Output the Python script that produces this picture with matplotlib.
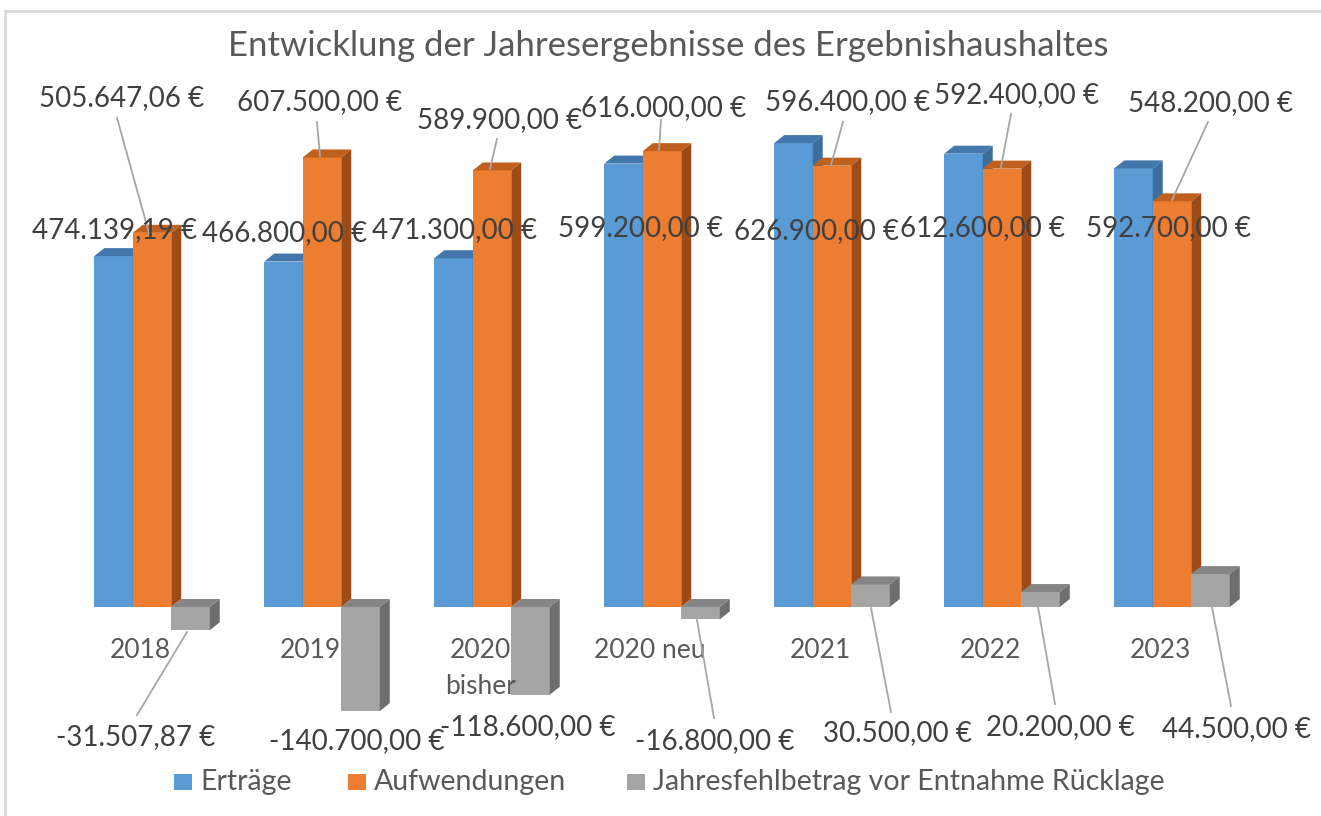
import matplotlib
matplotlib.use('Agg')
import matplotlib.pyplot as plt
from matplotlib.patches import Polygon, Rectangle
from matplotlib.lines import Line2D

# data
categories = ['2018', '2019', '2020\nbisher', '2020 neu', '2021', '2022', '2023']
ertraege = [474139.19, 466800.00, 471300.00, 599200.00, 626900.00, 612600.00, 592700.00]
aufwendungen = [505647.06, 607500.00, 589900.00, 616000.00, 596400.00, 592400.00, 548200.00]
fehlbetrag = [-31507.87, -140700.00, -118600.00, -16800.00, 30500.00, 20200.00, 44500.00]
series_names = ['Erträge', 'Aufwendungen', 'Jahresfehlbetrag vor Entnahme Rücklage']

# colours: front, top, side
colors = [('#5B9BD5', '#4377AB', '#3E6E9C'),
          ('#ED7D31', '#C0601E', '#9E4C17'),
          ('#A5A5A5', '#858585', '#6E6E6E')]

W, H = 1321, 816
FONT = 'Lato'
TXT = '#404040'

def fmt(v):
    s = f'{abs(v):,.2f}'.replace(',', 'X').replace('.', ',').replace('X', '.')
    return ('-' if v < 0 else '') + s + ' €'

fig = plt.figure(figsize=(W / 100, H / 100), dpi=100)
ax = fig.add_axes([0, 0, 1, 1])
# pixel mapping: x_px = 152 + 170*x ; y_px = 607 - 0.00074*v
ax.set_xlim(-152 / 170, (W - 152) / 170)
ax.set_ylim((607 - H) / 0.00074, 607 / 0.00074)
ax.axis('off')

def px(x, y):
    return (x / W, 1 - y / H)

w = 0.2265
dx = 10 / 170
dy = 8 / 0.00074

for k, vals in enumerate([ertraege, aufwendungen, fehlbetrag]):
    front, top, side = colors[k]
    for i, v in enumerate(vals):
        c = i + (k - 1) * w
        x0, x1 = c - w / 2, c + w / 2
        lo, hi = min(0, v), max(0, v)
        ax.bar(c, v, width=w, color=front, edgecolor='none', zorder=3 + k)
        ax.add_patch(Polygon([(x0, hi), (x1, hi), (x1 + dx, hi + dy), (x0 + dx, hi + dy)],
                             closed=True, facecolor=top, edgecolor='none', zorder=3 + k))
        ax.add_patch(Polygon([(x1, lo), (x1, hi), (x1 + dx, hi + dy), (x1 + dx, lo + dy)],
                             closed=True, facecolor=side, edgecolor='none', zorder=3 + k))

# category labels (one line each, 35 px apart)
for i, cat in enumerate(categories):
    for j, part in enumerate(cat.split('\n')):
        ax.text(i - 0.07, (607 - 651 - 35 * j) / 0.00074, part, ha='center', va='center',
                fontsize=19, color='#595959', family=FONT, zorder=10)

# label layout (pixel positions of label centres, optional leader line)
auf_pos = [(122, 98), (320, 102), (500, 120), (664, 108), (848, 102), (1016, 95), (1211, 103)]
auf_lines = [((117, 118), (149, 233)), ((317, 122), (320, 156)), ((497, 139), (490, 169)),
             ((661, 120), (659, 150)), ((843, 122), (831, 165)), ((1011, 114), (1001, 167)),
             ((1208, 122), (1172, 200))]
ert_pos = [(115, 230), (285, 233), (455, 230), (641, 228), (816, 231), (983, 228), (1168, 228)]
feh_pos = [(136, 737), (357, 741), (528, 727), (715, 741), (897, 733), (1060, 727), (1236, 729)]
feh_lines = [((137, 715), (187, 632)), None, None, ((714, 718), (697, 620)),
             ((891, 712), (871, 608)), ((1055, 704), (1038, 607)), ((1231, 706), (1212, 607))]

for vals, pos, lines in [(aufwendungen, auf_pos, auf_lines), (ertraege, ert_pos, None),
                         (fehlbetrag, feh_pos, feh_lines)]:
    for i, v in enumerate(vals):
        fig.text(*px(*pos[i]), fmt(v), ha='center', va='center', fontsize=20,
                 color=TXT, family=FONT, zorder=20)
        if lines and lines[i]:
            (xa, ya), (xb, yb) = lines[i]
            fig.add_artist(Line2D([xa / W, xb / W], [1 - ya / H, 1 - yb / H],
                                  color='#A6A6A6', lw=1.3, zorder=15))

# title
fig.text(*px(668, 46), 'Entwicklung der Jahresergebnisse des Ergebnishaushaltes',
         ha='center', va='center', fontsize=25, color='#595959', family=FONT)

# legend
leg_x = [174, 348, 627]
for k, name in enumerate(series_names):
    fig.add_artist(Rectangle(px(leg_x[k], 790), 18 / W, 16 / H, transform=fig.transFigure,
                             facecolor=colors[k][0], edgecolor='none'))
    fig.text(*px(leg_x[k] + 26, 782), name, ha='left', va='center', fontsize=20.5,
             color='#595959', family=FONT)

# chart border
fig.add_artist(Line2D([5 / W, 1], [1 - 11 / H, 1 - 11 / H], color='#D9D9D9', lw=2))
fig.add_artist(Line2D([5 / W, 5 / W], [0, 1 - 11 / H], color='#D9D9D9', lw=2))

fig.savefig('out.png', dpi=100, facecolor='white')
